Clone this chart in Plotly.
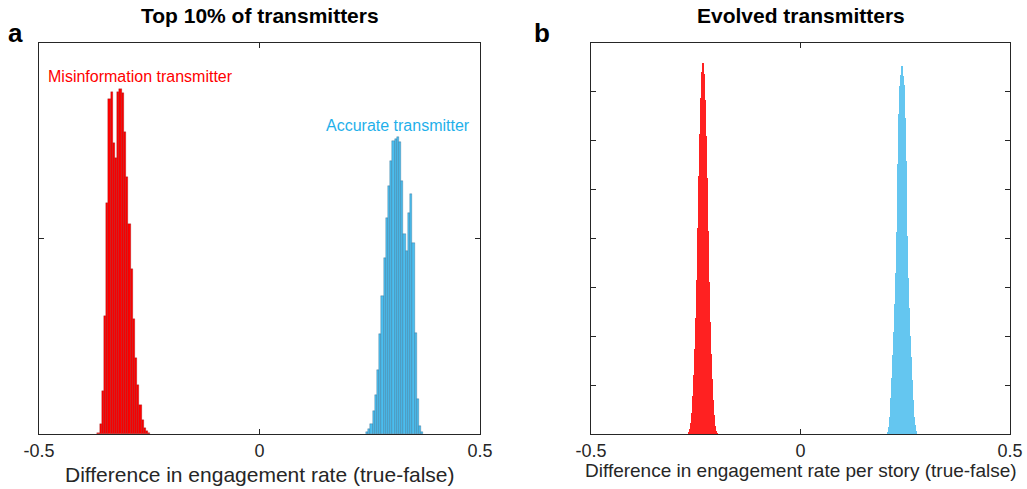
import numpy as np
import plotly.graph_objects as go

# ---------------- data ----------------
# Panel a: top 10% of transmitters (bin width 0.005)
bin_w_a = 0.005
red_a_first_center = -0.365
red_a_counts = [1, 10, 44, 121, 236, 343, 350, 298, 282, 350, 353, 349, 309, 263,
                215, 169, 118, 78, 50, 30, 14, 6, 3, 1]
blue_a_first_center = 0.244
blue_a_counts = [2, 5, 10, 24, 40, 65, 102, 141, 180, 221, 254, 279, 300, 302, 304,
                 299, 259, 205, 187, 226, 246, 195, 103, 36, 8, 2]

# Panel b: evolved transmitters (bin width 0.0025)
bin_w_b = 0.0025
red_b_first_center = -0.2677
red_b_counts = [2, 5, 11, 22, 39, 60, 87, 119, 158, 211, 264, 307, 344, 370,
                380,
                368, 342, 305, 262, 208, 155, 115, 82, 56, 35, 19, 8, 3, 1]
blue_b_first_center = 0.2072
blue_b_counts = [2, 7, 17, 37, 57, 81, 104, 133, 165, 207, 276, 327, 356, 367,
                 376,
                 366, 357, 323, 279, 203, 160, 129, 100, 79, 55, 35, 17, 9, 3]

x_ticks = [-0.5, 0, 0.5]
x_tick_text = ["-0.5", "0", "0.5"]
y_ticks_a = [200]
y_ticks_b = [50, 100, 150, 200, 250, 300, 350]

title_a = "Top 10% of transmitters"
title_b = "Evolved transmitters"
xlabel_a = "Difference in engagement rate (true-false)"
xlabel_b = "Difference in engagement rate per story (true-false)"

# ---------------- figure ----------------
W, H = 1027, 489
FONT = "Liberation Sans, Arial, Helvetica, sans-serif"
AX = "#262626"

def centers(first, n, w):
    return first + w * np.arange(n)

fig = go.Figure()
fig.add_trace(go.Bar(x=centers(red_a_first_center, len(red_a_counts), bin_w_a), y=red_a_counts,
                     width=bin_w_a, marker=dict(color="#FF0000", line=dict(color="rgba(90,0,0,0.45)", width=0.5)),
                     xaxis="x", yaxis="y", showlegend=False))
fig.add_trace(go.Bar(x=centers(blue_a_first_center, len(blue_a_counts), bin_w_a), y=blue_a_counts,
                     width=bin_w_a, marker=dict(color="#4DBEEE", line=dict(color="rgba(10,60,95,0.5)", width=0.5)),
                     xaxis="x", yaxis="y", showlegend=False))
fig.add_trace(go.Bar(x=centers(red_b_first_center, len(red_b_counts), bin_w_b), y=red_b_counts,
                     width=bin_w_b, marker=dict(color="rgba(255,0,0,0.87)", line=dict(width=0)),
                     xaxis="x2", yaxis="y2", showlegend=False))
fig.add_trace(go.Bar(x=centers(blue_b_first_center, len(blue_b_counts), bin_w_b), y=blue_b_counts,
                     width=bin_w_b, marker=dict(color="rgba(77,190,238,0.87)", line=dict(width=0)),
                     xaxis="x2", yaxis="y2", showlegend=False))

def px_x(p):
    return p / W

def px_y(p):
    return 1 - p / H

ydom = [px_y(434), px_y(43)]
common_x = dict(range=[-0.5, 0.5], tickvals=x_ticks, ticktext=x_tick_text, ticks="inside",
                ticklen=5, tickcolor=AX, showline=True, linecolor=AX, linewidth=1, mirror="ticks",
                zeroline=False, showgrid=False, automargin=False,
                tickfont=dict(family=FONT, size=18, color=AX))
common_y = dict(range=[0, 400], ticks="inside", ticklen=5, tickcolor=AX, showline=True,
                linecolor=AX, linewidth=1, mirror="ticks", zeroline=False, showgrid=False,
                showticklabels=False, automargin=False)

fig.update_layout(
    width=W, height=H, margin=dict(l=0, r=0, t=0, b=0, autoexpand=False),
    paper_bgcolor="white", plot_bgcolor="white", bargap=0, barmode="overlay",
    font=dict(family=FONT, color=AX),
    xaxis=dict(domain=[px_x(39), px_x(480)], anchor="y", **common_x),
    yaxis=dict(domain=ydom, anchor="x", tickvals=y_ticks_a, **common_y),
    xaxis2=dict(domain=[px_x(591), px_x(1010)], anchor="y2", **common_x),
    yaxis2=dict(domain=ydom, anchor="x2", tickvals=y_ticks_b, **common_y),
)

ann = [
    dict(text="<b>" + title_a + "</b>", x=px_x(259.5), y=px_y(16), font=dict(size=21, color="black")),
    dict(text="<b>" + title_b + "</b>", x=px_x(800.5), y=px_y(16), font=dict(size=21, color="black")),
    dict(text="<b>a</b>", x=px_x(15), y=px_y(33), font=dict(size=26, color="black")),
    dict(text="<b>b</b>", x=px_x(542), y=px_y(33), font=dict(size=26, color="black")),
    dict(text=xlabel_a, x=px_x(259.5), y=px_y(474), font=dict(size=21, color=AX)),
    dict(text=xlabel_b, x=px_x(800.5), y=px_y(470), font=dict(size=19, color=AX)),
]
for a in ann:
    a.update(xref="paper", yref="paper", xanchor="center", yanchor="middle", showarrow=False)
    a["font"]["family"] = FONT
    fig.add_annotation(**a)

fig.add_annotation(text="Misinformation transmitter", x=px_x(46), y=px_y(76), xref="paper", yref="paper",
                   xanchor="left", yanchor="middle", showarrow=False,
                   font=dict(family=FONT, size=16, color="#FF0000"))
fig.add_annotation(text="Accurate transmitter", x=px_x(324), y=px_y(125), xref="paper", yref="paper",
                   xanchor="left", yanchor="middle", showarrow=False,
                   font=dict(family=FONT, size=16, color="#1FB0EA"))

fig.write_html("out.html")
